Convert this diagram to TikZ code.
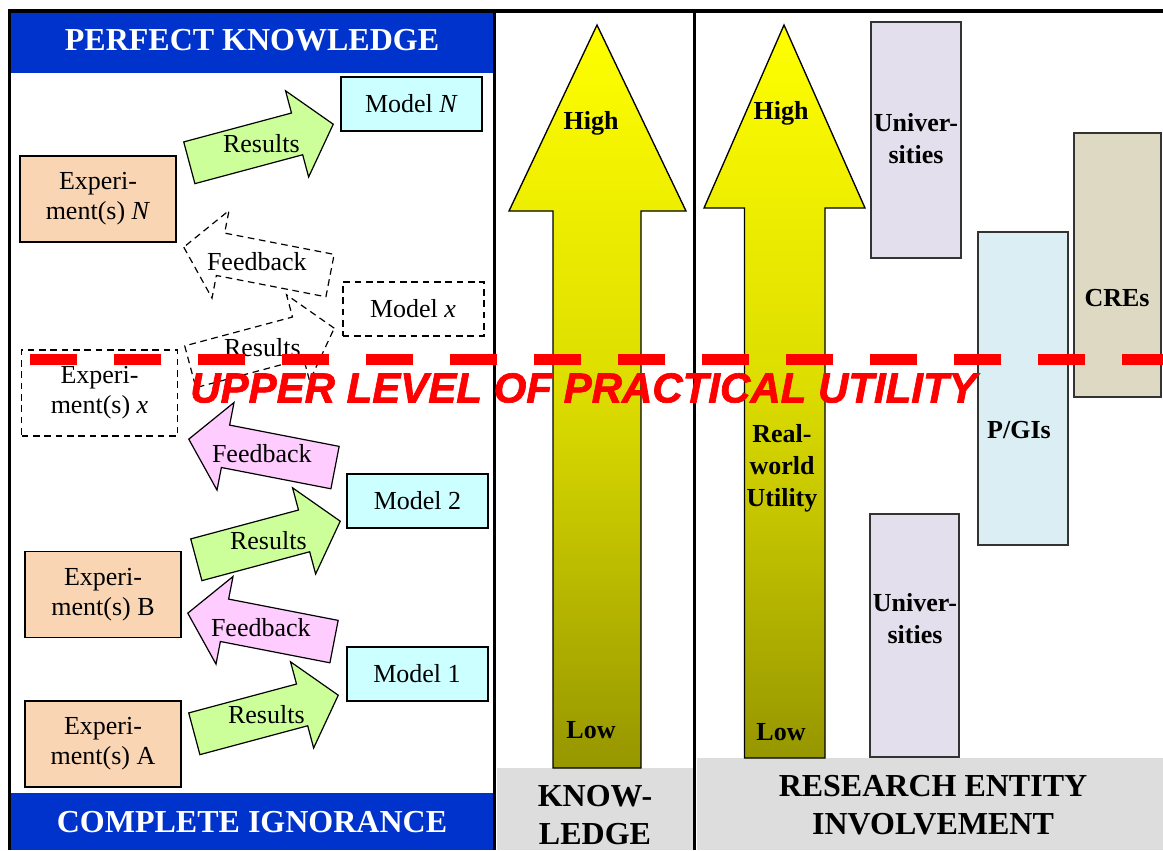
\documentclass[tikz,border=0pt]{standalone}
\usepackage{fontspec}
\setmainfont{Liberation Serif}
\newfontfamily\limitfont{Liberation Sans}[BoldItalicFeatures={FakeBold=1.6}]
\usetikzlibrary{shapes.arrows,calc}

\definecolor{bandblue}{RGB}{0,51,204}
\definecolor{bandgray}{RGB}{221,221,221}
\definecolor{expfill}{RGB}{250,213,180}
\definecolor{modelfill}{RGB}{204,255,255}
\definecolor{resultfill}{RGB}{204,255,153}
\definecolor{feedfill}{RGB}{255,204,255}
\definecolor{unifill}{RGB}{228,223,236}
\definecolor{pgifill}{RGB}{218,238,243}
\definecolor{crefill}{RGB}{221,217,195}
\definecolor{arrowtop}{RGB}{255,255,0}
\definecolor{arrowmid}{RGB}{220,220,0}
\definecolor{arrowbot}{RGB}{150,150,0}
\definecolor{limitred}{RGB}{255,0,0}

\tikzset{every picture/.style={line width=0.75pt}}
\tikzset{
  panelline/.style={line width=2.6pt},
  bandtitle/.style={font=\fontsize{24}{28}\selectfont\bfseries, align=center, inner sep=0pt},
  boxtext/.style={font=\fontsize{19.5}{22.5}\selectfont, align=center},
  labeltext/.style={font=\fontsize{19.5}{24}\selectfont\bfseries, align=center, inner sep=0pt},
  expbox/.style={draw, line width=1.4pt, fill=expfill, minimum width=117pt, minimum height=64.5pt, boxtext},
  modelbox/.style={draw, line width=1.5pt, fill=modelfill, minimum width=105.75pt, minimum height=40.5pt, boxtext},
  guess/.style={dash pattern=on 5pt off 3.5pt, fill=none},
  blockarrow/.style={single arrow, draw, line width=0.9pt, anchor=tip, minimum height=111.75pt,
    inner xsep=0pt, inner ysep=15.75pt, single arrow head extend=17.25pt, single arrow tip angle=100},
  results/.style={blockarrow, fill=resultfill, rotate=15},
  feedback/.style={blockarrow, fill=feedfill, rotate=169},
  bigarrow/.style={draw, line width=1pt, top color=arrowtop, bottom color=arrowbot, middle color=arrowmid},
  entity/.style={draw=black!80, line width=1.1pt, inner sep=0pt},
  limitline/.style={draw=limitred, line width=8.25pt, dash pattern=on 35.25pt off 27.75pt},
  limittext/.style={text=limitred, font=\limitfont\fontsize{31.5}{34}\selectfont\bfseries\itshape, inner sep=0pt}
}

\begin{document}
\begin{tikzpicture}[x=0.75pt,y=0.75pt,yscale=-1,xscale=1]
\useasboundingbox (0,0) rectangle (1163,850);
\clip (0,0) rectangle (1163,850);

%Bands
\fill[bandblue] (11,12.7) rectangle (493,72.7);
\fill[bandblue] (11,793) rectangle (493,850);
\fill[bandgray] (497,768) rectangle (693,850);
\fill[bandgray] (697,758) rectangle (1163,850);

% Text Node
\node[bandtitle, text=white] (perfect) at (252,40) {PERFECT KNOWLEDGE};
% Text Node
\node[bandtitle, text=white] (ignorance) at (252,822) {COMPLETE IGNORANCE};
% Text Node
\node[bandtitle] (knowledge) at (595,815) {KNOW-\\LEDGE};
% Text Node
\node[bandtitle] (involvement) at (933,805) {RESEARCH ENTITY\\INVOLVEMENT};

%Panel borders
\draw[panelline] (9.3,850) -- (9.3,11) -- (1163,11);
\draw[panelline] (494.7,11) -- (494.7,850);
\draw[panelline] (694.7,11) -- (694.7,850);

%Experiments and models
\node[expbox] (expN) at (98,199) {Experi-\\ment(s) \textit{N}};
\node[expbox, guess] (expx) at (99.5,393) {Experi-\\ment(s) \textit{x}};
\node[expbox] (expB) at (103,594.5) {Experi-\\ment(s) B};
\node[expbox] (expA) at (103,744) {Experi-\\ment(s) A};
\node[modelbox] (modN) at (411.5,104) {Model \textit{N}};
\node[modelbox, guess] (modx) at (413,309) {Model \textit{x}};
\node[modelbox] (mod2) at (417.5,501) {Model 2};
\node[modelbox] (mod1) at (417,674) {Model 1};

%Block arrows
\node[results] (resN) at (334,124) {};
\node[feedback, guess] (feedx) at (183,247) {};
\node[results, guess] (resx) at (335,328) {};
\node[feedback] (feed2) at (188,439) {};
\node[results] (res2) at (341,521) {};
\node[feedback] (feedB) at (187,613) {};
\node[results] (res1) at (339,695) {};

% Text Node
\node[boxtext] (resNt) at ($(resN.tip)!.5!(resN.tail)$) {Results};
\node[boxtext] (feedxt) at ($(feedx.tip)!.5!(feedx.tail)$) {Feedback};
\node[boxtext] (resxt) at ($(resx.tip)!.5!(resx.tail)$) {Results};
\node[boxtext] (feed2t) at ($(feed2.tip)!.5!(feed2.tail)$) {Feedback};
\node[boxtext] (res2t) at ($(res2.tip)!.5!(res2.tail)$) {Results};
\node[boxtext] (feedBt) at ($(feedB.tip)!.5!(feedB.tail)$) {Feedback};
\node[boxtext] (res1t) at ($(res1.tip)!.5!(res1.tail)$) {Results};

%Knowledge and utility scales
\draw[bigarrow] (553,768) -- (553,211) -- (509,211) -- (597,25) -- (686,211) -- (641,211) -- (641,768) -- cycle;
\draw[bigarrow] (744.5,758) -- (744.5,208) -- (704,208) -- (784,25) -- (865,208) -- (825,208) -- (825,758) -- cycle;
\node[labeltext] (khigh) at (591,123) {High};
\node[labeltext] (klow) at (591,730) {Low};
\node[labeltext] (uhigh) at (781,113) {High};
\node[labeltext] (real) at (782,468) {Real-\\world\\Utility};
\node[labeltext] (ulow) at (781,732) {Low};

%Research entities
\node[entity, fill=unifill, minimum width=67.5pt, minimum height=177pt] (uni1) at (916,140) {};
\node[entity, fill=unifill, minimum width=66.75pt, minimum height=182.25pt] (uni2) at (914.5,635.5) {};
\node[entity, fill=pgifill, minimum width=67.5pt, minimum height=234.75pt] (pgi) at (1023,388.5) {};
\node[entity, fill=crefill, minimum width=65.25pt, minimum height=198pt] (cre) at (1117.5,265) {};
\node[labeltext] (uni1t) at (916,139) {Univer-\\sities};
\node[labeltext] (uni2t) at (915,619) {Univer-\\sities};
\node[labeltext] (pgit) at (1019,430) {P/GIs};
\node[labeltext] (cret) at (1117,298) {CREs};

%Upper level line
\path[limitline] (30,359.5) -- (1163,359.5);
% Text Node
\node[limittext] (limit) at (583.5,388) {UPPER LEVEL OF PRACTICAL UTILITY};

\end{tikzpicture}
\end{document}
